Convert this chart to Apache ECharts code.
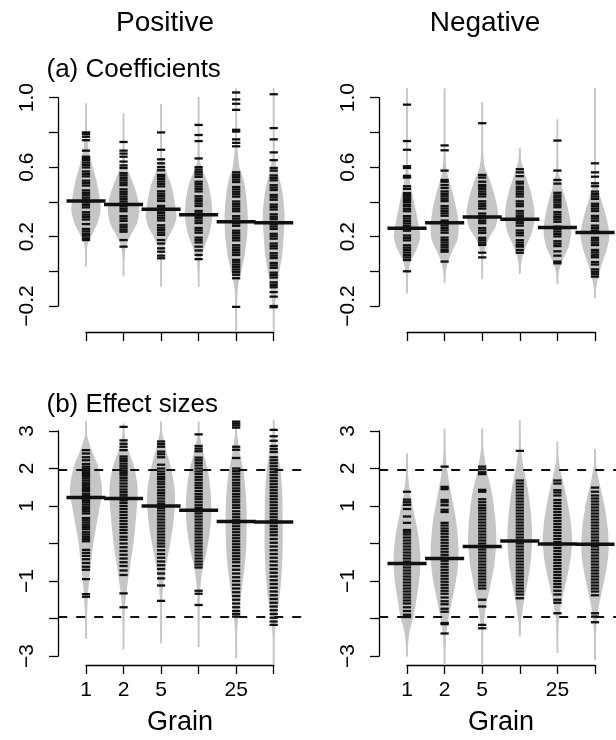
<!DOCTYPE html>
<html>
<head>
<meta charset="utf-8">
<script src="https://cdn.jsdelivr.net/npm/echarts@6/dist/echarts.min.js"></script>
<style>html,body{margin:0;padding:0;background:#fff;}#c{width:616px;height:740px;}</style>
</head>
<body>
<div id="c"></div>
<script>
// ---------- tick labels ----------
const grainLabels = ['1', '2', '5', '', '25', ''];
const coefTickLabels = ['\u22120.2', '', '0.2', '', '0.6', '', '1.0'];   // -0.2 .. 1.0
const effTickLabels = ['\u22123', '', '\u22121', '', '1', '2', '3'];      // -3 .. 3
const sigLevels = [1.96, -1.96];

// ---------- bean means ----------
const posCoefMeans = [0.405, 0.385, 0.357, 0.325, 0.285, 0.28];
const negCoefMeans = [0.248, 0.28, 0.313, 0.30, 0.252, 0.224];
const posEffMeans = [1.23, 1.2, 1.0, 0.89, 0.59, 0.575];
const negEffMeans = [-0.53, -0.4, -0.08, 0.07, -0.01, -0.02];

// ---------- bean ranges (density tails) ----------
const posCoefRange = [[0.027, 0.968], [-0.03, 0.91], [-0.089, 0.964], [-0.09, 1.006], [-0.35, 1.054], [-0.35, 1.054]];
const negCoefRange = [[-0.127, 1.054], [-0.069, 1.054], [-0.046, 0.975], [-0.015, 0.71], [-0.076, 0.876], [-0.156, 1.054]];
const posEffRange = [[-2.54, 3.27], [-2.83, 3.2], [-2.66, 3.25], [-2.77, 3.25], [-3.06, 3.29], [-3.24, 3.29]];
const negEffRange = [[-3.02, 2.41], [-3.24, 3.07], [-3.24, 3.07], [-2.48, 3.29], [-2.92, 2.72], [-3.12, 2.53]];

// ---------- bean density outlines: [value, half width in grain units] ----------
const posCoefShape = [
  [[0.90,0.01],[0.80,0.03],[0.70,0.07],[0.60,0.18],[0.53,0.27],[0.43,0.36],[0.35,0.39],[0.28,0.31],[0.22,0.18],[0.16,0.05],[0.10,0.02],[0.04,0.01]],
  [[0.80,0.01],[0.70,0.02],[0.62,0.05],[0.58,0.12],[0.526,0.22],[0.43,0.37],[0.353,0.42],[0.277,0.36],[0.22,0.22],[0.16,0.09],[0.12,0.045],[0.05,0.01]],
  [[0.80,0.01],[0.66,0.03],[0.56,0.16],[0.488,0.28],[0.39,0.37],[0.315,0.41],[0.257,0.34],[0.20,0.20],[0.142,0.09],[0.065,0.035],[-0.02,0.01]],
  [[0.80,0.01],[0.64,0.035],[0.58,0.11],[0.507,0.25],[0.41,0.34],[0.315,0.365],[0.22,0.29],[0.142,0.16],[0.065,0.05],[-0.012,0.02],[-0.06,0.01]],
  [[0.85,0.01],[0.72,0.03],[0.60,0.09],[0.526,0.20],[0.43,0.27],[0.315,0.31],[0.20,0.29],[0.084,0.22],[-0.012,0.12],[-0.088,0.05],[-0.20,0.02],[-0.30,0.01]],
  [[0.80,0.01],[0.66,0.03],[0.56,0.12],[0.47,0.22],[0.334,0.29],[0.22,0.27],[0.084,0.22],[-0.03,0.13],[-0.127,0.07],[-0.24,0.02],[-0.32,0.01]]
];
const negCoefShape = [
  [[0.75,0.01],[0.60,0.03],[0.526,0.07],[0.43,0.16],[0.334,0.25],[0.238,0.33],[0.19,0.35],[0.123,0.25],[0.065,0.11],[0.008,0.045],[-0.07,0.02],[-0.11,0.01]],
  [[0.75,0.01],[0.64,0.03],[0.545,0.09],[0.45,0.22],[0.353,0.32],[0.257,0.375],[0.18,0.34],[0.113,0.20],[0.055,0.09],[0.0,0.035],[-0.05,0.01]],
  [[0.80,0.01],[0.68,0.03],[0.60,0.07],[0.526,0.20],[0.43,0.34],[0.334,0.42],[0.257,0.36],[0.20,0.20],[0.142,0.09],[0.084,0.035],[0.0,0.01]],
  [[0.70,0.01],[0.64,0.035],[0.565,0.13],[0.468,0.28],[0.372,0.375],[0.295,0.39],[0.22,0.32],[0.142,0.16],[0.084,0.07],[0.027,0.025],[-0.01,0.01]],
  [[0.75,0.01],[0.58,0.03],[0.487,0.12],[0.39,0.25],[0.295,0.34],[0.22,0.365],[0.142,0.30],[0.065,0.14],[0.008,0.05],[-0.05,0.01]],
  [[0.70,0.01],[0.526,0.03],[0.45,0.11],[0.353,0.25],[0.257,0.355],[0.20,0.385],[0.123,0.31],[0.027,0.16],[-0.05,0.07],[-0.108,0.025],[-0.15,0.01]]
];
const posEffShape = [
  [[3.1,0.01],[2.89,0.03],[2.54,0.13],[2.09,0.31],[1.65,0.41],[1.38,0.43],[0.94,0.36],[0.49,0.28],[0.05,0.20],[-0.4,0.15],[-0.84,0.10],[-1.28,0.06],[-1.73,0.035],[-2.2,0.015],[-2.5,0.005]],
  [[3.0,0.01],[2.89,0.03],[2.54,0.11],[2.09,0.27],[1.65,0.36],[1.29,0.375],[0.76,0.34],[0.05,0.27],[-0.57,0.18],[-1.2,0.09],[-1.73,0.035],[-2.35,0.013],[-2.8,0.005]],
  [[3.1,0.01],[2.98,0.03],[2.54,0.12],[2.0,0.27],[1.47,0.36],[1.03,0.37],[0.49,0.32],[-0.13,0.22],[-0.66,0.12],[-1.2,0.05],[-1.91,0.018],[-2.6,0.005]],
  [[3.1,0.01],[2.89,0.03],[2.45,0.12],[1.92,0.25],[1.38,0.32],[0.85,0.34],[0.32,0.30],[-0.22,0.21],[-0.66,0.11],[-1.2,0.045],[-1.91,0.018],[-2.7,0.005]],
  [[3.2,0.01],[2.89,0.03],[2.36,0.11],[1.83,0.21],[1.12,0.27],[0.58,0.28],[-0.04,0.27],[-0.66,0.22],[-1.28,0.14],[-1.82,0.07],[-2.35,0.027],[-2.8,0.01],[-3.0,0.005]],
  [[3.2,0.01],[2.98,0.03],[2.54,0.09],[2.0,0.18],[1.29,0.23],[0.58,0.24],[-0.13,0.24],[-0.84,0.21],[-1.46,0.15],[-2.0,0.07],[-2.44,0.027],[-2.97,0.01],[-3.2,0.005]]
];
const negEffShape = [
  [[2.3,0.01],[1.83,0.03],[1.29,0.09],[0.76,0.20],[0.23,0.30],[-0.31,0.355],[-0.84,0.34],[-1.37,0.27],[-1.91,0.18],[-2.35,0.07],[-2.8,0.018],[-3.0,0.005]],
  [[2.9,0.01],[2.36,0.03],[1.83,0.09],[1.2,0.20],[0.58,0.31],[-0.13,0.37],[-0.75,0.34],[-1.37,0.23],[-1.91,0.12],[-2.44,0.045],[-2.97,0.013],[-3.2,0.005]],
  [[2.9,0.01],[2.54,0.03],[2.0,0.11],[1.29,0.27],[0.58,0.355],[0.05,0.375],[-0.57,0.32],[-1.2,0.20],[-1.73,0.09],[-2.26,0.035],[-2.8,0.013],[-3.2,0.005]],
  [[3.0,0.01],[2.54,0.03],[2.09,0.09],[1.47,0.21],[0.76,0.30],[0.14,0.33],[-0.48,0.29],[-1.02,0.21],[-1.55,0.11],[-2.08,0.035],[-2.44,0.013]],
  [[2.6,0.01],[2.27,0.03],[1.83,0.11],[1.2,0.25],[0.58,0.355],[0.05,0.39],[-0.48,0.34],[-1.02,0.23],[-1.55,0.11],[-2.08,0.035],[-2.62,0.013],[-2.9,0.005]],
  [[2.4,0.01],[2.09,0.03],[1.65,0.11],[1.03,0.25],[0.4,0.34],[-0.13,0.365],[-0.66,0.31],[-1.2,0.20],[-1.73,0.09],[-2.26,0.035],[-2.8,0.013],[-3.1,0.005]]
];

// ---------- individual observations (bean lines) ----------
const posCoefTicks = [
  [0.80,0.79,0.775,0.755,0.695,0.66,0.65,0.64,0.626,0.612,0.598,0.575,0.561,0.547,0.522,0.508,0.494,0.466,0.452,0.438,0.424,0.41,0.396,0.382,0.368,0.34,0.326,0.312,0.298,0.272,0.244,0.23,0.216,0.205,0.19,0.18],
  [0.745,0.695,0.678,0.66,0.632,0.61,0.595,0.565,0.552,0.538,0.524,0.51,0.496,0.472,0.458,0.444,0.43,0.416,0.402,0.388,0.374,0.36,0.346,0.318,0.304,0.29,0.268,0.254,0.24,0.228,0.18,0.142],
  [0.80,0.70,0.645,0.622,0.60,0.582,0.555,0.545,0.531,0.517,0.503,0.489,0.461,0.447,0.433,0.419,0.405,0.377,0.363,0.349,0.335,0.321,0.307,0.293,0.265,0.251,0.237,0.223,0.21,0.18,0.16,0.132,0.113,0.09,0.075],
  [0.843,0.785,0.75,0.65,0.60,0.586,0.572,0.558,0.544,0.516,0.502,0.488,0.474,0.46,0.432,0.418,0.404,0.39,0.376,0.348,0.334,0.32,0.306,0.292,0.278,0.25,0.236,0.222,0.194,0.18,0.166,0.142,0.12,0.094,0.07],
  [1.03,0.99,0.965,0.93,0.815,0.805,0.76,0.74,0.72,0.57,0.556,0.542,0.528,0.514,0.486,0.472,0.458,0.444,0.43,0.402,0.388,0.374,0.36,0.346,0.318,0.304,0.29,0.276,0.262,0.234,0.22,0.206,0.192,0.178,0.15,0.136,0.122,0.108,0.094,0.066,0.052,0.038,0.024,0.01,-0.005,-0.02,-0.04,-0.205],
  [1.02,0.825,0.76,0.685,0.64,0.595,0.58,0.552,0.538,0.524,0.496,0.482,0.468,0.44,0.426,0.412,0.384,0.37,0.356,0.328,0.314,0.3,0.272,0.258,0.244,0.216,0.202,0.188,0.16,0.146,0.132,0.104,0.09,0.076,0.048,0.034,0.02,-0.008,-0.022,-0.036,-0.064,-0.078,-0.092,-0.12,-0.146,-0.2,-0.207]
];
const negCoefTicks = [
  [0.96,0.75,0.70,0.605,0.595,0.55,0.54,0.49,0.475,0.45,0.44,0.43,0.42,0.41,0.40,0.385,0.375,0.36,0.346,0.318,0.304,0.29,0.276,0.262,0.248,0.234,0.206,0.192,0.178,0.15,0.136,0.122,0.108,0.094,0.08,0.065,0.0],
  [0.725,0.697,0.58,0.526,0.516,0.497,0.48,0.46,0.446,0.432,0.418,0.404,0.376,0.362,0.348,0.334,0.32,0.292,0.278,0.264,0.25,0.236,0.222,0.194,0.18,0.166,0.152,0.138,0.124,0.113,0.056],
  [0.853,0.555,0.54,0.516,0.497,0.487,0.473,0.459,0.445,0.431,0.403,0.389,0.375,0.361,0.333,0.319,0.305,0.291,0.277,0.249,0.235,0.221,0.193,0.179,0.165,0.152,0.107,0.08],
  [0.588,0.57,0.548,0.516,0.505,0.487,0.473,0.459,0.445,0.431,0.403,0.389,0.375,0.347,0.333,0.319,0.305,0.291,0.277,0.263,0.235,0.221,0.207,0.179,0.165,0.151,0.142,0.123,0.107],
  [0.753,0.58,0.526,0.505,0.452,0.437,0.425,0.411,0.397,0.383,0.369,0.341,0.327,0.313,0.299,0.285,0.257,0.243,0.229,0.215,0.201,0.173,0.159,0.145,0.115,0.09,0.056,0.046],
  [0.622,0.57,0.545,0.507,0.49,0.459,0.445,0.431,0.417,0.389,0.375,0.361,0.347,0.319,0.305,0.291,0.263,0.249,0.235,0.221,0.193,0.179,0.165,0.151,0.123,0.109,0.095,0.081,0.053,0.039,0.011,-0.003,-0.017,-0.031]
];
const posEffTicks = [
  [2.49,2.4,2.3,2.22,2.12,2.05,2.0,1.95,1.9,1.85,1.8,1.74,1.68,1.62,1.56,1.5,1.45,1.4,1.33,1.28,1.2,1.15,1.1,1.04,0.98,0.92,0.86,0.8,0.68,0.62,0.56,0.5,0.44,0.38,0.3,0.24,0.18,0.12,0.06,-0.17,-0.25,-0.33,-0.42,-0.52,-0.62,-0.7,-0.95,-1.35,-1.42],
  [3.11,2.75,2.66,2.58,2.49,2.32,2.26,2.2,2.13,2.06,2.0,1.94,1.88,1.82,1.75,1.68,1.6,1.52,1.44,1.37,1.3,1.23,1.15,1.08,1.0,0.92,0.84,0.76,0.68,0.6,0.52,0.44,0.36,0.28,0.18,0.1,0.0,-0.1,-0.2,-0.3,-0.4,-0.5,-0.6,-0.72,-0.84,-1.33,-1.7],
  [2.72,2.65,2.58,2.45,2.38,2.3,2.1,2.0,1.92,1.85,1.78,1.72,1.65,1.58,1.5,1.42,1.35,1.28,1.2,1.12,1.05,0.95,0.88,0.8,0.72,0.64,0.56,0.48,0.4,0.32,0.24,0.16,0.08,0.0,-0.08,-0.18,-0.28,-0.38,-0.48,-0.58,-0.68,-0.8,-0.93,-1.12,-1.53],
  [2.91,2.6,2.53,2.46,2.29,2.22,2.15,2.08,2.0,1.92,1.85,1.77,1.7,1.62,1.55,1.48,1.4,1.32,1.25,1.18,1.1,1.02,0.95,0.86,0.8,0.72,0.64,0.56,0.48,0.4,0.32,0.24,0.16,0.08,0.0,-0.08,-0.16,-0.24,-0.32,-0.4,-0.48,-0.56,-0.64,-1.26,-1.34,-1.64],
  [3.25,3.2,3.15,3.09,2.58,2.5,2.28,2.0,1.93,1.86,1.78,1.7,1.62,1.55,1.47,1.4,1.32,1.25,1.17,1.1,1.02,0.95,0.86,0.78,0.7,0.62,0.54,0.46,0.38,0.3,0.22,0.14,0.06,-0.02,-0.1,-0.18,-0.26,-0.34,-0.42,-0.5,-0.6,-0.7,-0.8,-0.9,-1.0,-1.1,-1.2,-1.3,-1.4,-1.5,-1.6,-1.7,-1.8,-1.88,-1.95],
  [3.03,2.86,2.74,2.6,2.52,2.44,2.3,2.22,2.14,2.06,1.98,1.9,1.82,1.74,1.66,1.58,1.5,1.42,1.34,1.26,1.18,1.1,1.02,0.94,0.86,0.78,0.7,0.62,0.54,0.46,0.38,0.3,0.22,0.12,0.02,-0.08,-0.18,-0.28,-0.38,-0.48,-0.58,-0.68,-0.78,-0.88,-0.98,-1.08,-1.18,-1.28,-1.38,-1.48,-1.58,-1.68,-1.78,-1.88,-1.98,-2.08,-2.17]
];
const negEffTicks = [
  [1.38,1.17,1.1,1.03,0.92,0.72,0.55,0.36,0.3,0.24,0.16,0.08,0.0,-0.08,-0.16,-0.24,-0.32,-0.4,-0.48,-0.56,-0.64,-0.72,-0.8,-0.88,-0.96,-1.04,-1.12,-1.2,-1.28,-1.36,-1.44,-1.52,-1.6,-1.7,-1.8,-1.9,-1.96],
  [2.05,1.51,1.45,1.16,1.1,1.02,0.9,0.84,0.55,0.48,0.4,0.33,0.26,0.18,0.1,0.02,-0.06,-0.14,-0.22,-0.3,-0.38,-0.46,-0.54,-0.62,-0.7,-0.78,-0.86,-0.94,-1.02,-1.1,-1.18,-1.26,-1.34,-1.44,-1.54,-1.62,-1.74,-1.82,-2.12,-2.15,-2.4],
  [2.05,1.98,1.9,1.85,1.43,1.38,1.18,1.1,1.02,0.95,0.88,0.8,0.72,0.64,0.56,0.48,0.4,0.32,0.24,0.16,0.08,0.0,-0.08,-0.16,-0.24,-0.32,-0.4,-0.48,-0.56,-0.64,-0.72,-0.8,-0.88,-0.96,-1.04,-1.12,-1.2,-1.5,-1.68,-2.17,-2.26],
  [2.47,1.68,1.6,1.52,1.44,1.36,1.28,1.2,1.12,1.04,0.96,0.88,0.8,0.72,0.64,0.56,0.48,0.4,0.32,0.24,0.16,0.08,0.0,-0.08,-0.16,-0.24,-0.32,-0.4,-0.48,-0.56,-0.64,-0.72,-0.8,-0.88,-0.96,-1.04,-1.12,-1.2,-1.28,-1.36,-1.46],
  [1.68,1.6,1.42,1.36,1.28,1.16,1.08,1.0,0.92,0.84,0.76,0.68,0.6,0.52,0.44,0.36,0.28,0.2,0.12,0.04,-0.04,-0.12,-0.2,-0.28,-0.36,-0.44,-0.52,-0.6,-0.68,-0.76,-0.84,-0.92,-1.0,-1.08,-1.16,-1.26,-1.36,-1.5,-1.58,-1.86],
  [1.49,1.38,1.28,1.2,1.12,1.04,0.96,0.88,0.8,0.72,0.64,0.56,0.48,0.4,0.32,0.24,0.16,0.08,0.0,-0.08,-0.16,-0.24,-0.32,-0.4,-0.48,-0.56,-0.64,-0.72,-0.8,-0.88,-0.96,-1.04,-1.12,-1.2,-1.28,-1.38,-1.86,-1.95,-2.1]
];

// ---------- drawing ----------
const FONT = 'Liberation Sans, Arial, Helvetica, sans-serif';
const GREY = '#c6c6c6';
const INK = '#111111';

function beanRenderer(shapes, ranges, ticks, means) {
  return function (params, api) {
    const i = api.value(0);
    const x = i + 1;
    const shape = shapes[i];
    const left = shape.map(p => api.coord([x - p[1], p[0]]));
    const right = shape.slice().reverse().map(p => api.coord([x + p[1], p[0]]));
    const children = [];
    children.push({ type: 'polygon', shape: { points: left.concat(right), smooth: 0.25 }, style: { fill: GREY } });
    const a = api.coord([x, ranges[i][0]]), b = api.coord([x, ranges[i][1]]);
    children.push({ type: 'line', shape: { x1: a[0], y1: a[1], x2: b[0], y2: b[1] }, style: { stroke: GREY, lineWidth: 1.9 } });
    ticks[i].forEach(t => {
      const p = api.coord([x - 0.11, t]), q = api.coord([x + 0.11, t]);
      children.push({ type: 'line', shape: { x1: p[0], y1: p[1], x2: q[0], y2: q[1] }, style: { stroke: INK, lineWidth: 2.3 } });
    });
    const m1 = api.coord([x - 0.52, means[i]]), m2 = api.coord([x + 0.52, means[i]]);
    children.push({ type: 'line', shape: { x1: m1[0], y1: m1[1], x2: m2[0], y2: m2[1] }, style: { stroke: INK, lineWidth: 3.5 } });
    return { type: 'group', children };
  };
}

function dashRenderer(params, api) {
  const v = api.value(0);
  const p = api.coord([0.26, v]), q = api.coord([6.74, v]);
  return { type: 'line', shape: { x1: p[0], y1: p[1], x2: q[0], y2: q[1] },
           style: { stroke: INK, lineWidth: 2, lineDash: [9, 9] } };
}

const panels = [
  { left: 86, width: 187.7, top: 97.7, height: 208.3, xoff: 26, ymin: -0.2, ymax: 1.0, yint: 0.2, labels: coefTickLabels, xlab: false,
    shapes: posCoefShape, ranges: posCoefRange, ticks: posCoefTicks, means: posCoefMeans },
  { left: 407, width: 188, top: 97.7, height: 208.3, xoff: 26, ymin: -0.2, ymax: 1.0, yint: 0.2, labels: coefTickLabels, xlab: false,
    shapes: negCoefShape, ranges: negCoefRange, ticks: negCoefTicks, means: negCoefMeans },
  { left: 86, width: 187.7, top: 431, height: 225, xoff: 9, ymin: -3, ymax: 3, yint: 1, labels: effTickLabels, xlab: true,
    shapes: posEffShape, ranges: posEffRange, ticks: posEffTicks, means: posEffMeans },
  { left: 407, width: 188, top: 431, height: 225, xoff: 9, ymin: -3, ymax: 3, yint: 1, labels: effTickLabels, xlab: true,
    shapes: negEffShape, ranges: negEffRange, ticks: negEffTicks, means: negEffMeans }
];

const axisLineStyle = { color: '#000', width: 1.3 };
const grid = [], xAxis = [], yAxis = [], series = [];
panels.forEach((p, k) => {
  grid.push({ left: p.left, top: p.top, width: p.width, height: p.height });
  xAxis.push({
    gridIndex: k, type: 'value', min: 1, max: 6, interval: 1, offset: p.xoff, position: 'bottom',
    axisLine: { show: true, onZero: false, lineStyle: axisLineStyle },
    axisTick: { show: true, length: 9, lineStyle: axisLineStyle },
    axisLabel: { show: p.xlab, margin: 15, fontSize: 21, color: '#000', fontFamily: FONT,
                 formatter: v => grainLabels[Math.round(v) - 1] || '' },
    splitLine: { show: false }
  });
  yAxis.push({
    gridIndex: k, type: 'value', min: p.ymin, max: p.ymax, interval: p.yint, offset: 28, position: 'left',
    axisLine: { show: true, onZero: false, lineStyle: axisLineStyle },
    axisTick: { show: true, length: 9, lineStyle: axisLineStyle },
    axisLabel: { show: true, rotate: 90, margin: 20, fontSize: 21, color: '#000', fontFamily: FONT,
                 formatter: v => p.labels[Math.round((v - p.ymin) / p.yint)] || '' },
    splitLine: { show: false }
  });
  series.push({
    type: 'custom', xAxisIndex: k, yAxisIndex: k, clip: false, silent: true,
    renderItem: beanRenderer(p.shapes, p.ranges, p.ticks, p.means),
    data: [[0], [1], [2], [3], [4], [5]]
  });
  if (k >= 2) {
    series.push({
      type: 'custom', xAxisIndex: k, yAxisIndex: k, clip: false, silent: true,
      renderItem: dashRenderer, data: sigLevels.map(v => [v])
    });
  }
});

function txt(text, x, y, size, align) {
  return { type: 'text', x: x, y: y, silent: true,
           style: { text: text, fontSize: size, fontFamily: FONT, fill: '#000', align: align || 'center', verticalAlign: 'middle' } };
}

const chart = echarts.init(document.getElementById('c'), null, { renderer: 'canvas' });
chart.setOption({
  backgroundColor: '#fff',
  animation: false,
  grid, xAxis, yAxis, series,
  graphic: [
    txt('Positive', 165, 23, 28),
    txt('Negative', 485, 23, 28),
    txt('(a) Coefficients', 46.5, 70, 26, 'left'),
    txt('(b) Effect sizes', 46.5, 405, 26, 'left'),
    txt('Grain', 180, 723, 27),
    txt('Grain', 501, 723, 27)
  ]
});
</script>
</body>
</html>
